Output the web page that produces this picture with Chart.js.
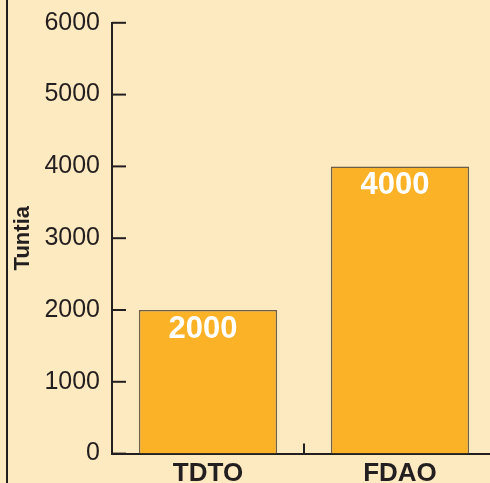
<!DOCTYPE html>
<html><head><meta charset="utf-8">
<script src="https://cdn.jsdelivr.net/npm/chart.js@4"></script>
<style>
html,body{margin:0;padding:0;overflow:hidden;background:#FEEAC1;width:490px;height:483px;}
#frame{position:absolute;left:6px;top:0;width:2px;height:483px;background:#231F20;}
#wrap{position:absolute;left:0;top:0;width:500px;height:520px;}
</style></head>
<body>
<div id="wrap"><canvas id="c" width="500" height="520"></canvas></div>
<div id="frame"></div>
<script>
const categories = ["TDTO", "FDAO"];
const hours = [2000, 4000];
const yTicks = [0, 1000, 2000, 3000, 4000, 5000, 6000];
const yTitle = "Tuntia";

const INK = '#231F20';

const innerTicks = {
  id: 'innerTicks',
  afterDraw(chart) {
    const ctx = chart.ctx, y = chart.scales.y, x = chart.scales.x;
    ctx.save();
    ctx.strokeStyle = INK;
    ctx.lineWidth = 2;
    y.ticks.forEach(t => {
      const py = y.getPixelForValue(t.value);
      ctx.beginPath(); ctx.moveTo(y.right, py); ctx.lineTo(y.right + 14, py); ctx.stroke();
    });
    for (let i = 0; i < categories.length - 1; i++) {
      const px = (x.getPixelForValue(i) + x.getPixelForValue(i + 1)) / 2;
      ctx.beginPath(); ctx.moveTo(px, x.top); ctx.lineTo(px, x.top - 10); ctx.stroke();
    }
    const meta = chart.getDatasetMeta(0);
    ctx.fillStyle = '#FFFFFF';
    ctx.font = 'bold 31px "Liberation Sans", Arial, sans-serif';
    ctx.textAlign = 'center';
    ctx.textBaseline = 'middle';
    meta.data.forEach((bar, i) => {
      ctx.fillText(String(hours[i]), bar.x - 5, bar.y + 19);
    });
    ctx.restore();
  }
};

new Chart(document.getElementById('c'), {
  type: 'bar',
  data: {
    labels: categories,
    datasets: [{
      data: hours,
      backgroundColor: '#FBB227',
      borderColor: '#6E5E45',
      borderWidth: 1.5,
      categoryPercentage: 1,
      barPercentage: 0.72
    }]
  },
  options: {
    responsive: false,
    animation: false,
    layout: { padding: { left: 0, top: 22.8, right: 4, bottom: 0 } },
    plugins: { legend: { display: false }, tooltip: { enabled: false } },
    scales: {
      x: {
        offset: true,
        grid: { display: false, drawTicks: false },
        border: { display: true, color: INK, width: 2 },
        ticks: {
          color: INK,
          padding: 5,
          font: { family: '"Liberation Sans", Arial, sans-serif', size: 26, weight: 'bold' }
        },
        afterFit(s) { s.height = 520 - 453.6; s.paddingLeft = 0; s.paddingRight = 0; }
      },
      y: {
        min: 0, max: 6000,
        afterBuildTicks(s) { s.ticks = yTicks.map(v => ({ value: v })); },
        grid: { display: false, drawTicks: false },
        border: { display: true, color: INK, width: 2 },
        ticks: {
          color: INK,
          padding: 12,
          callback: v => String(v),
          font: { family: '"Liberation Sans", Arial, sans-serif', size: 25 }
        },
        title: {
          display: true,
          text: yTitle,
          color: INK,
          padding: { top: 10, bottom: 0 },
          font: { family: '"Liberation Sans Narrow", "Liberation Sans", Arial, sans-serif', size: 22, weight: 'bold' }
        },
        afterFit(s) { s.width = 112; s.paddingTop = 0; s.paddingBottom = 0; }
      }
    }
  },
  plugins: [innerTicks]
});
</script>
</body></html>
